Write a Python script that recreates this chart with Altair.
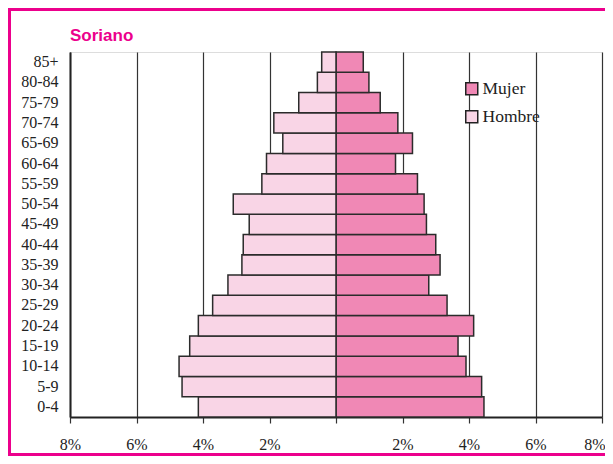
import altair as alt
import pandas as pd

ages = ["0-4", "5-9", "10-14", "15-19", "20-24", "25-29", "30-34", "35-39", "40-44",
        "45-49", "50-54", "55-59", "60-64", "65-69", "70-74", "75-79", "80-84", "85+"]
hombre = [4.14, 4.63, 4.72, 4.40, 4.14, 3.71, 3.25, 2.83, 2.79,
          2.61, 3.09, 2.23, 2.09, 1.60, 1.87, 1.12, 0.56, 0.43]
mujer = [4.45, 4.38, 3.91, 3.67, 4.14, 3.34, 2.79, 3.13, 3.00,
         2.72, 2.65, 2.45, 1.79, 2.30, 1.86, 1.33, 0.99, 0.82]
series = ["Mujer", "Hombre"]
colors = ["#f088b5", "#f9d5e6"]
tick_values = [-8, -6, -4, -2, 0, 2, 4, 6, 8]

rows = []
for a, h, m in zip(ages, hombre, mujer):
    rows.append({"edad": a, "sexo": "Mujer", "valor": m})
    rows.append({"edad": a, "sexo": "Hombre", "valor": -h})
df = pd.DataFrame(rows)

SERIF = "Liberation Serif, DejaVu Serif, serif"
MAGENTA = "#ec008c"

bars = alt.Chart(df).mark_bar(stroke="#2b2b2b", strokeWidth=1.5).encode(
    x=alt.X("valor:Q", stack=None,
            scale=alt.Scale(domain=[-8, 8], nice=False),
            axis=alt.Axis(values=tick_values,
                          labelExpr="datum.value == 0 ? '' : abs(datum.value) + '%'",
                          title=None, grid=True, gridColor="#333333", gridWidth=1.2,
                          tickSize=6, tickColor="#333333", tickWidth=1.2,
                          domainColor="#222222", domainWidth=2,
                          labelFont=SERIF, labelFontSize=16, labelColor="#222222",
                          labelPadding=13, labelFlush=False,
                          labelAlign={"condition": {"test": "datum.value >= 8", "value": "right"},
                                      "value": "center"},
                          labelOffset={"condition": {"test": "datum.value >= 8", "value": 3},
                                       "value": 0})),
    y=alt.Y("edad:N", sort=ages[::-1],
            scale=alt.Scale(paddingInner=0, paddingOuter=0),
            axis=alt.Axis(title=None, ticks=False, labelPadding=12,
                          domainColor="#222222", domainWidth=2,
                          labelFont=SERIF, labelFontSize=16, labelColor="#222222")),
    color=alt.Color("sexo:N",
                    scale=alt.Scale(domain=series, range=colors),
                    legend=alt.Legend(title=None, orient="none", legendX=393, legendY=28,
                                      symbolType="square", symbolSize=144,
                                      symbolStrokeColor="#222222", symbolStrokeWidth=1.5,
                                      symbolOpacity=1,
                                      labelFont=SERIF, labelFontSize=17.5,
                                      labelColor="#222222", labelOffset=2,
                                      rowPadding=9)),
)

border = alt.Chart(pd.DataFrame({"k": [0]})).mark_rect(
    filled=False, stroke=MAGENTA, strokeWidth=3, clip=False
).encode(
    x=alt.value(-60.5), x2=alt.value(560), y=alt.value(-42.5), y2=alt.value(402.5)
)

chart = alt.layer(bars, border).properties(
    width=532, height=365,
    autosize="none",
    padding={"left": 62, "top": 44, "right": 3, "bottom": 39},
    title=alt.Title("Soriano", anchor="start", frame="group", offset=0, dy=37,
                    font="Liberation Sans, Arial, sans-serif",
                    fontSize=17, fontWeight="bold", color=MAGENTA),
).configure_view(
    fill="#e5e6e8", stroke="#2b2b2b", strokeWidth=2
).configure(background="white")

chart.save("out.html", embed_options={"renderer": "svg", "actions": False})
